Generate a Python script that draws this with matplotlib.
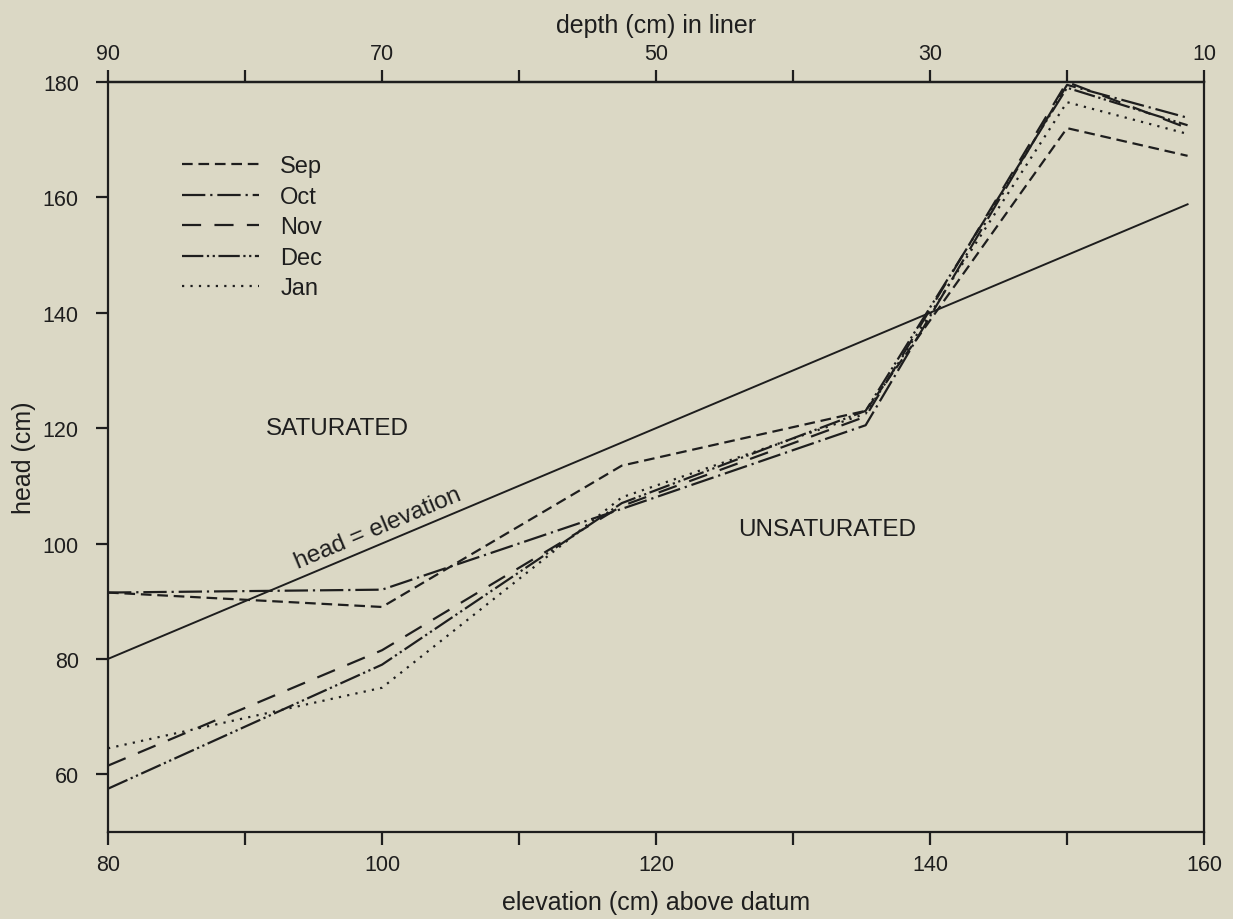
import matplotlib
matplotlib.use("Agg")
import matplotlib.pyplot as plt
import numpy as np

plt.rcParams['font.family'] = ['Liberation Sans', 'DejaVu Sans']

# elevation (cm) above datum at measurement points
elevation = [80, 100, 117.5, 135.3, 150, 158.8]
sep = [91.5, 89.0, 113.5, 123.0, 172.0, 167.2]
oct_ = [91.5, 92.0, 106.0, 120.5, 179.5, 173.8]
nov = [61.5, 81.5, 106.5, 122.0, 180.0, 172.0]
dec = [57.5, 79.0, 107.0, 123.0, 179.0, 172.5]
jan = [64.5, 75.0, 108.0, 122.5, 176.5, 171.0]
series_names = ["Sep", "Oct", "Nov", "Dec", "Jan"]
ref_x = [80, 158.8]
ref_y = [80, 158.8]

x_ticks = [80, 90, 100, 110, 120, 130, 140, 150, 160]
x_labels = ["80", "", "100", "", "120", "", "140", "", "160"]
y_ticks = [60, 80, 100, 120, 140, 160, 180]
depth_ticks = [90, 80, 70, 60, 50, 40, 30, 20, 10]
depth_labels = ["90", "", "70", "", "50", "", "30", "", "10"]

bg = "#dbd8c5"
ink = "#1e1e1e"
fs_tick = 15.5
fs_lab = 18
fs_txt = 17.5

fig = plt.figure(figsize=(12.33, 9.2), dpi=100, facecolor=bg)
ax = fig.add_axes([0.0876, 0.0946, 0.9765 - 0.0876, 0.9098 - 0.0946])
ax.set_facecolor(bg)

styles = [
    dict(linestyle=(0, (4.8, 2.6))),
    dict(linestyle=(0, (10.5, 2.2, 1, 2.2))),
    dict(linestyle=(0, (8.6, 6))),
    dict(linestyle=(0, (9.6, 1.6, 1, 1.6, 1, 1.6))),
    dict(linestyle=(0, (1, 2.8))),
]
data = [sep, oct_, nov, dec, jan]
for name, vals, st in zip(series_names, data, styles):
    ax.plot(elevation, vals, color=ink, lw=1.6, label=name, **st)

ax.plot(ref_x, ref_y, color=ink, lw=1.4)

ax.set_xlim(80, 160)
ax.set_ylim(50, 180)
ax.set_xticks(x_ticks)
ax.set_xticklabels(x_labels)
ax.set_yticks(y_ticks)

for s in ax.spines.values():
    s.set_linewidth(1.6)
    s.set_color(ink)
ax.tick_params(axis='both', direction='out', length=9, width=1.6, colors=ink,
               labelsize=fs_tick)
ax.tick_params(axis='x', pad=7)
ax.tick_params(axis='y', pad=12)

ax.set_xlabel("elevation (cm) above datum", fontsize=fs_lab, color=ink, labelpad=11)
ax.set_ylabel("head (cm)", fontsize=fs_lab, color=ink, labelpad=5)

sec = ax.secondary_xaxis('top', functions=(lambda x: 170 - x, lambda d: 170 - d))
sec.set_xticks(depth_ticks)
sec.set_xticklabels(depth_labels)
sec.tick_params(direction='out', length=9, width=1.6, colors=ink, labelsize=fs_tick, pad=4)
sec.spines['top'].set_linewidth(1.6)
sec.set_xlabel("depth (cm) in liner", fontsize=fs_lab, color=ink, labelpad=8)

# rotation of the head = elevation label follows the line in pixel space
p0 = ax.transData.transform((90, 90))
p1 = ax.transData.transform((110, 110))
ang = np.degrees(np.arctan2(p1[1] - p0[1], p1[0] - p0[0]))
ax.text(100.0, 101.0, "head = elevation", rotation=ang, rotation_mode='anchor',
        ha='center', va='bottom', fontsize=fs_txt, color=ink)
ax.text(91.5, 120, "SATURATED", fontsize=fs_txt, color=ink, va='center')
ax.text(126.0, 102.5, "UNSATURATED", fontsize=fs_txt, color=ink, va='center')

leg = ax.legend(loc='upper left', bbox_to_anchor=(0.057, 0.918), frameon=False,
                fontsize=17, handlelength=3.25, handletextpad=0.9,
                labelspacing=0.36, labelcolor=ink, borderpad=0)

fig.savefig("out.png", dpi=100, facecolor=bg)
